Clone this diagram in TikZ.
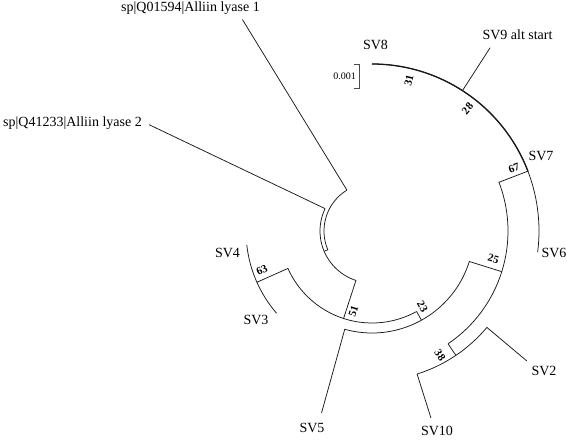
\documentclass[tikz,border=0pt]{standalone}
\usepackage{fontspec}
\setmainfont{Liberation Serif}
\begin{document}
\begin{tikzpicture}[x=1pt,y=1pt,
  every node/.style={font=\fontsize{14}{16}\selectfont,inner sep=0pt},
  branch/.style={line width=0.75pt,black!90},
  bootlabel/.style={font=\fontsize{11}{12}\selectfont\bfseries}]
  \useasboundingbox (-372,-209) rectangle (195,231);
  \coordinate (al1in) at (121.5:48);
  \coordinate (al1tip) at (121.5:248);
  \coordinate (nin) at (203:48);
  \coordinate (nout) at (203:52);
  \coordinate (al2in) at (154.5:52);
  \coordinate (al2tip) at (154.5:247);
  \coordinate (n51in) at (252:52);
  \coordinate (n51out) at (252:92);
  \coordinate (n23in) at (-61:92);
  \coordinate (n23out) at (-61:102);
  \coordinate (n63in) at (-156:92);
  \coordinate (n63out) at (-156:126);
  \coordinate (sv3tip) at (-139.2:126);
  \coordinate (sv5in) at (-105.5:102);
  \coordinate (sv5tip) at (-105.5:189);
  \coordinate (n25in) at (-17.4:102);
  \coordinate (n25out) at (-17.4:136);
  \coordinate (n38in) at (-56:136);
  \coordinate (n38out) at (-56:150);
  \coordinate (sv10in) at (-72.5:150);
  \coordinate (sv10tip) at (-72.5:196);
  \coordinate (sv2in) at (-40:150);
  \coordinate (sv2tip) at (-40:202);
  \coordinate (n67in) at (21:136);
  \coordinate (n67out) at (21:167);
  \coordinate (sv6tip) at (-7.3:167);
  \coordinate (sv9in) at (57.2:167);
  \coordinate (sv9tip) at (57.2:218);

  \draw[branch] (al1in) arc[start angle=121.5,end angle=203,radius=48] -- (nout);
  \draw[branch] (al2in) arc[start angle=154.5,end angle=252,radius=52] -- (n51out);
  \draw[branch] (al1in) -- (al1tip);
  \draw[branch] (al2in) -- (al2tip);
  \draw[branch] (n23in) arc[start angle=-61,end angle=-156,radius=92];
  \draw[branch] (n63in) -- (n63out);
  \draw[branch] (sv3tip) arc[start angle=-139.2,end angle=-173.7,radius=126];
  \draw[branch] (n23in) -- (n23out);
  \draw[branch] (sv5tip) -- (sv5in) arc[start angle=-105.5,end angle=-17.4,radius=102] -- (n25out);
  \draw[branch] (n38in) arc[start angle=-56,end angle=21,radius=136] -- (n67out);
  \draw[branch] (n38in) -- (n38out);
  \draw[branch] (sv10tip) -- (sv10in) arc[start angle=-72.5,end angle=-40,radius=150] -- (sv2tip);
  \draw[branch] (sv6tip) arc[start angle=-7.3,end angle=90,radius=167];
  \draw[branch,line width=1.3pt] (n67out) arc[start angle=21,end angle=90,radius=167];
  \draw[branch] (sv9in) -- (sv9tip);

  \node (al1) [anchor=base east] at (-112,219.5) {sp|Q01594|Alliin lyase 1};
  \node (al2) [anchor=base east] at (-230,104.5) {sp|Q41233|Alliin lyase 2};
  \node (sv4) at (-144.5,-21.5) {SV4};
  \node (sv3) at (-116,-89) {SV3};
  \node (sv5) at (-60,-197) {SV5};
  \node (sv10) at (65,-200) {SV10};
  \node (sv2) at (172,-140) {SV2};
  \node (sv6) at (182,-22) {SV6};
  \node (sv7) at (169,75) {SV7};
  \node (sv8) at (3.5,186) {SV8};
  \node (sv9) at (145.5,196) {SV9 alt start};

  \node[bootlabel,rotate=76] (b31) at (37,150.5) {31};
  \node[bootlabel,rotate=50] (b28) at (95.5,122.5) {28};
  \node[bootlabel,rotate=20] (b67) at (142,62.5) {67};
  \node[bootlabel,rotate=-17] (b25) at (121.5,-28) {25};
  \node[bootlabel,rotate=-61] (b23) at (50.5,-75.5) {23};
  \node[bootlabel,rotate=-56] (b38) at (68,-124) {38};
  \node[bootlabel,rotate=72] (b51) at (-18.5,-80) {51};
  \node[bootlabel,rotate=24] (b63) at (-110,-39) {63};

  \coordinate (sbtop) at (-13,167);
  \coordinate (sbbot) at (-13,143);
  \draw[line width=0.6pt,black!70] ([xshift=-5pt]sbtop) -- (sbtop) -- (sbbot) -- ([xshift=-5pt]sbbot);
  \node[font=\fontsize{10}{12}\selectfont,anchor=east] (scale) at (-16,155) {0.001};
\end{tikzpicture}
\end{document}
